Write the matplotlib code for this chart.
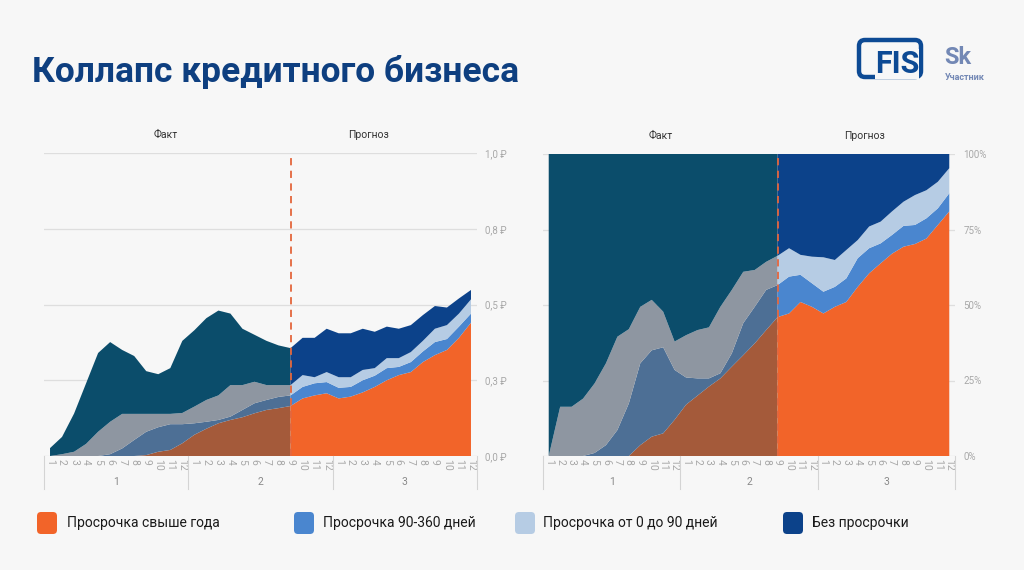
import numpy as np
import matplotlib
matplotlib.use('Agg')
import matplotlib.pyplot as plt
import matplotlib.patches as mpatches

plt.rcParams['font.family'] = ['Roboto', 'DejaVu Sans']

# ── данные ───────────────────────────────────────────
months = list(range(1, 13)) * 3
years = ['1', '2', '3']
split = 20  # последний фактический месяц (2-й год, 9-й месяц)

series = ['Просрочка свыше года', 'Просрочка 90-360 дней',
          'Просрочка от 0 до 90 дней', 'Без просрочки']

# левая панель, руб.
abs_over_year = [0, 0, 0, 0, 0, 0, 0, 0, 0.003, 0.014, 0.02, 0.042,
                 0.07, 0.09, 0.108, 0.119, 0.128, 0.141, 0.152, 0.158, 0.165, 0.19, 0.20, 0.207,
                 0.19, 0.196, 0.21, 0.228, 0.25, 0.267, 0.277, 0.31, 0.333, 0.35, 0.39, 0.44]
abs_90_360 = [0, 0, 0, 0, 0, 0.006, 0.025, 0.053, 0.077, 0.081, 0.085, 0.063,
              0.038, 0.023, 0.011, 0.011, 0.024, 0.033, 0.033, 0.037, 0.035, 0.038, 0.04, 0.037,
              0.035, 0.032, 0.04, 0.037, 0.04, 0.027, 0.033, 0.035, 0.043, 0.036, 0.037, 0.03]
abs_0_90 = [0, 0.006, 0.014, 0.04, 0.08, 0.107, 0.114, 0.086, 0.059, 0.044, 0.034, 0.037,
            0.055, 0.072, 0.081, 0.104, 0.082, 0.071, 0.049, 0.039, 0.034, 0.039, 0.02, 0.033,
            0.035, 0.032, 0.034, 0.025, 0.033, 0.029, 0.033, 0.035, 0.044, 0.046, 0.043, 0.047]
abs_none = [0.026, 0.057, 0.126, 0.20, 0.26, 0.263, 0.211, 0.191, 0.141, 0.131, 0.151, 0.238,
            0.252, 0.27, 0.28, 0.236, 0.186, 0.155, 0.146, 0.131, 0.122, 0.123, 0.13, 0.143,
            0.145, 0.145, 0.136, 0.12, 0.104, 0.097, 0.089, 0.085, 0.075, 0.058, 0.05, 0.031]
abs_ticks = [0, 0.25, 0.5, 0.75, 1.0]
abs_tick_labels = ['0,0 ₽', '0,3 ₽', '0,5 ₽', '0,8 ₽', '1,0 ₽']

# правая панель, %
pct_over_year = [0, 0, 0, 0, 0, 0, 0, 0, 3.6, 6.4, 7.5, 12,
                 17, 20, 23, 25.7, 29.6, 33.4, 37.3, 41.7, 46, 47.2, 51, 49.4,
                 47.2, 49.4, 51, 56, 60.5, 63.8, 67, 69.3, 70.2, 72, 76.5, 81]
pct_90_360 = [0, 0, 0, 0, 1, 3.6, 8.6, 17.4, 27.1, 28.6, 28.5, 16.5,
              9, 5.7, 2.7, 1.7, 4.4, 10.6, 12.1, 13.3, 10.6, 12.2, 9, 7.8,
              7.2, 6.6, 7.8, 9.5, 8.3, 6.6, 6.2, 6.9, 6.3, 6.7, 5.5, 6]
pct_0_90 = [0, 16.3, 16.3, 19, 23, 27.1, 30.9, 24.6, 18.7, 16.7, 11.8, 9.4,
            14, 16, 16.9, 22, 21, 17, 12.2, 9.3, 9.7, 9.4, 6.6, 8.8,
            11.4, 8.9, 9.4, 6, 7.2, 7.2, 7.8, 8, 9.9, 9.3, 8.8, 8.3]
pct_none = [100, 83.7, 83.7, 81, 76, 69.3, 60.5, 58, 50.6, 48.3, 52.2, 62.1,
            60, 58.3, 57.4, 50.6, 45, 39, 38.4, 35.7, 33.7, 31.2, 33.4, 34,
            34.2, 35.1, 31.8, 28.5, 24, 22.4, 19, 15.8, 13.6, 12, 9.2, 4.7]
pct_ticks = [0, 25, 50, 75, 100]
pct_tick_labels = ['0%', '25%', '50%', '75%', '100%']

# ── оформление ───────────────────────────────────────
BG = '#F7F7F7'
FORECAST_COLORS = ['#F26429', '#4A86CF', '#B6CCE4', '#0C428A']
FACT_COLORS = ['#A45A3A', '#4D6F95', '#8E96A1', '#0B4D6B']
TITLE_BLUE = '#0E3F80'
GRID = '#DEDEDE'
TICK = '#A8A8A8'

fig = plt.figure(figsize=(10.24, 5.70), dpi=100, facecolor=BG)


def px_ax(x0, y0, x1, y1):
    return fig.add_axes([x0 / 1024, 1 - y1 / 570, (x1 - x0) / 1024, (y1 - y0) / 570])


def panel(ax, layers, ymax, yticks, ylabels, heads):
    ax.set_facecolor(BG)
    x = np.arange(len(months))
    data = [np.array(s, dtype=float) for s in layers]
    fact = slice(0, split + 1)
    fcst = slice(split, len(months))
    ax.stackplot(x[fact], *[d[fact] for d in data], colors=FACT_COLORS, lw=0, zorder=2)
    ax.stackplot(x[fcst], *[d[fcst] for d in data], colors=FORECAST_COLORS, lw=0, zorder=2)
    ax.axvline(split, color='#E4663C', ls=(0, (4, 3)), lw=1.3, zorder=3)

    ax.set_xlim(-0.5, len(months) - 0.5)
    ax.set_ylim(0, ymax)
    ax.set_yticks(yticks)
    ax.set_yticklabels(ylabels)
    ax.yaxis.tick_right()
    ax.grid(axis='y', color=GRID, lw=0.9, zorder=0)
    ax.set_axisbelow(True)
    for s in ax.spines.values():
        s.set_visible(False)
    ax.tick_params(axis='y', length=0, pad=6, labelsize=7, labelcolor=TICK)

    ax.set_xticks(x)
    ax.set_xticklabels([str(m) for m in months], rotation=-90)
    ax.tick_params(axis='x', length=0, pad=2, labelsize=7.5, labelcolor=TICK)

    trans = ax.get_xaxis_transform()
    for b in [-0.5, 11.5, 23.5, 35.5]:
        ax.plot([b, b], [0, -0.108], transform=trans, color='#D4D4D4', lw=0.8,
                clip_on=False)
    for i, yr in enumerate(years):
        ax.text(5.5 + 12 * i, -0.085, yr, transform=trans, ha='center', va='center',
                fontsize=7.5, color='#8A8A8A')

    for xpos, lbl in heads:
        ax.text(xpos, 1.06, lbl, transform=trans, ha='center', va='center',
                fontsize=7.5, color='#333333')


ax1 = px_ax(44, 153, 477, 456)
panel(ax1, [abs_over_year, abs_90_360, abs_0_90, abs_none], 1.0,
      abs_ticks, abs_tick_labels, [(9.6, 'Факт'), (26.5, 'Прогноз')])

ax2 = px_ax(543, 154, 955, 456)
panel(ax2, [pct_over_year, pct_90_360, pct_0_90, pct_none], 100,
      pct_ticks, pct_tick_labels, [(9.8, 'Факт'), (27.6, 'Прогноз')])

# ── заголовок ────────────────────────────────────────
fig.text(32 / 1024, 1 - 72 / 570, 'Коллапс кредитного бизнеса', fontsize=25.5,
         fontweight='bold', color=TITLE_BLUE, ha='left', va='center')

# логотипы
inch = fig.dpi_scale_trans
fig.patches.append(mpatches.FancyBboxPatch(
    (8.59, 5.70 - 0.77), 0.62, 0.37, boxstyle='round,pad=0,rounding_size=0.06',
    fc='none', ec='#0D4A94', lw=3.2, transform=inch, figure=fig))
fig.text(897 / 1024, 1 - 64 / 570, 'FIS', fontsize=22, fontweight='bold',
         color='#0D4A94', ha='center', va='center',
         bbox=dict(fc=BG, ec='none', pad=0.3))
fig.text(944 / 1024, 1 - 57 / 570, 'Sk', fontsize=17, fontweight='bold',
         color='#7388B5', ha='left', va='center')
fig.text(945 / 1024, 1 - 77 / 570, 'Участник', fontsize=6.5, fontweight='bold',
         color='#7388B5', ha='left', va='center')

# ── легенда ──────────────────────────────────────────
sq_x = [37, 294, 515, 783]
txt_x = [67, 323, 543, 812]
for sx, tx, lbl, c in zip(sq_x, txt_x, series, FORECAST_COLORS):
    fig.patches.append(mpatches.FancyBboxPatch(
        (sx / 100, (570 - 534) / 100), 0.20, 0.22,
        boxstyle='round,pad=0,rounding_size=0.04',
        fc=c, ec='none', transform=inch, figure=fig))
    fig.text(tx / 1024, 1 - 523 / 570, lbl, fontsize=10, color='#1A1A1A',
             ha='left', va='center')

fig.savefig('out.png', dpi=100, facecolor=BG)
